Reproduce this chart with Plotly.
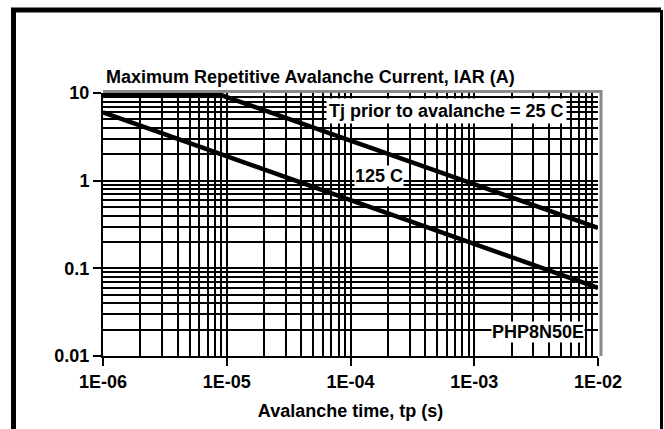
import plotly.graph_objects as go

# ---- data ----
tp_25 = [1e-6, 8.8e-6, 1e-5, 1e-4, 1e-3, 1e-2]
iar_25 = [9.6, 9.6, 9.0, 2.85, 0.9, 0.29]

tp_125 = [1e-6, 1e-5, 1e-4, 1e-3, 1e-2]
iar_125 = [6.0, 1.9, 0.6, 0.19, 0.06]

x_major = [1e-6, 1e-5, 1e-4, 1e-3, 1e-2]
x_labels = ["1E-06", "1E-05", "1E-04", "1E-03", "1E-02"]
y_major = [0.01, 0.1, 1, 10]
y_labels = ["0.01", "0.1", "1", "10"]

x_minor = [m * d for d in [1e-6, 1e-5, 1e-4, 1e-3] for m in range(2, 10)]
y_minor = [m * d for d in [0.01, 0.1, 1] for m in range(2, 10)]

FONT = "Arial, Liberation Sans, sans-serif"
FS = 18
W, H = 664, 429
L, R, T, B = 103, 66, 93, 73
PW, PH = W - L - R, H - T - B

def px(xpix):
    return (xpix - L) / PW

def py(ypix):
    return (H - B - ypix) / PH

def fnt(size=FS):
    return dict(family=FONT, size=size, color="black", weight="bold")

fig = go.Figure()
fig.add_trace(go.Scatter(x=tp_25, y=iar_25, mode="lines",
                         line=dict(color="black", width=4.5), showlegend=False))
fig.add_trace(go.Scatter(x=tp_125, y=iar_125, mode="lines",
                         line=dict(color="black", width=4.5), showlegend=False))

axis_common = dict(
    type="log", showgrid=True, gridcolor="black", gridwidth=2,
    showline=True, linecolor="black", linewidth=2,
    ticks="outside", ticklen=8, tickwidth=2, tickcolor="black",
    tickfont=fnt(), zeroline=False,
)

fig.update_xaxes(**axis_common, range=[-6, -2], tickmode="array",
                 tickvals=x_major, ticktext=x_labels,
                 minor=dict(tickmode="array", tickvals=x_minor, showgrid=True,
                            gridcolor="black", gridwidth=2, ticks=""),
                 title=dict(text="Avalanche time, tp (s)", font=fnt(), standoff=14))
fig.update_yaxes(**axis_common, range=[-2, 1], tickmode="array",
                 tickvals=y_major, ticktext=y_labels,
                 minor=dict(tickmode="array", tickvals=y_minor, showgrid=True,
                            gridcolor="black", gridwidth=2, ticks=""))

shapes = [
    # outer frame (left, top, right)
    dict(type="path", xref="paper", yref="paper",
         path=f"M {px(13.5)} {py(440)} L {px(13.5)} {py(10)} L {px(661)} {py(10)}",
         line=dict(color="black", width=5)),
    dict(type="line", xref="paper", yref="paper",
         x0=px(661.5), x1=px(661.5), y0=py(10), y1=py(440),
         line=dict(color="black", width=3)),
    # gray plot-area border (top, right)
    dict(type="path", xref="paper", yref="paper",
         path=f"M {px(103)} {py(91.5)} L {px(601)} {py(91.5)} L {px(601)} {py(356)}",
         line=dict(color="#8a8a8a", width=3)),
]

annotations = [
    dict(text="Maximum Repetitive Avalanche Current, IAR (A)", xref="paper", yref="paper",
         x=px(104), y=py(77), xanchor="left", yanchor="middle", showarrow=False,
         font=fnt()),
    dict(text="Tj prior to avalanche = 25 C", xref="x", yref="y",
         x=-3.226, y=0.795, showarrow=False, bgcolor="white", borderpad=2,
         font=fnt()),
    dict(text="125 C", xref="x", yref="y",
         x=-3.766, y=0.054, showarrow=False, bgcolor="white", borderpad=0,
         font=fnt()),
    dict(text="PHP8N50E", xref="x", yref="y",
         x=-2.484, y=-1.725, showarrow=False, bgcolor="white", borderpad=0,
         font=fnt()),
]

fig.update_layout(
    width=W, height=H, margin=dict(l=L, r=R, t=T, b=B),
    paper_bgcolor="white", plot_bgcolor="white",
    shapes=shapes, annotations=annotations, showlegend=False,
)

fig.write_html(
    "out.html",
    config={"displayModeBar": False},
    post_script="document.body.style.margin='0';document.body.style.overflow='hidden';",
)
